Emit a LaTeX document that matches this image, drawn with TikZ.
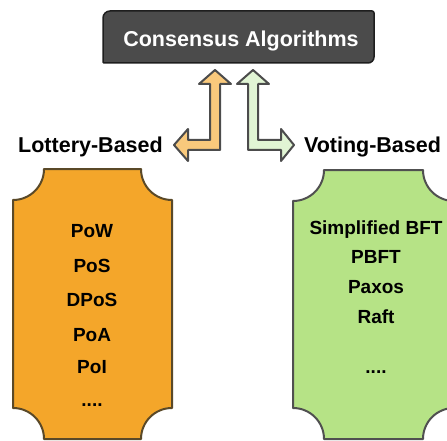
\documentclass[tikz,border=0pt]{standalone}
\usepackage{fontspec}
\setmainfont{Liberation Sans}

\definecolor{titlegray}{HTML}{4B4B4B}
\definecolor{titleedge}{HTML}{1E1E1E}
\definecolor{lotfill}{HTML}{F4A62A}
\definecolor{lotedge}{HTML}{5A4928}
\definecolor{votfill}{HTML}{B6E386}
\definecolor{votedge}{HTML}{505050}
\definecolor{lotarrow}{HTML}{F9C97C}
\definecolor{votarrow}{HTML}{E1F5D4}
\definecolor{arrowedge}{HTML}{4C4C4C}

\tikzset{
  heading/.style={font=\bfseries\fontsize{21.5}{24}\selectfont, anchor=base},
  item/.style={font=\bfseries\fontsize{19}{22}\selectfont, anchor=base},
  blockarrow/.style={draw=arrowedge, line width=2pt, line join=round},
  ticketframe/.style={line width=2pt, line join=round},
}

% box with concave corners: left, right, top, bottom, radius
\newcommand{\ticketpath}[5]{%
  ({#1+#5},#3) -- ({#2-#5},#3) arc[start angle=180, end angle=90, radius=#5]
  -- (#2,{#4-#5}) arc[start angle=270, end angle=180, radius=#5]
  -- ({#1+#5},#4) arc[start angle=0, end angle=-90, radius=#5]
  -- (#1,{#3+#5}) arc[start angle=90, end angle=0, radius=#5] -- cycle}

\begin{document}
\begin{tikzpicture}[x=1pt,y=-1pt]
\useasboundingbox (0,0) rectangle (447,441);
\clip (0,0) rectangle (447,441);

% title
\filldraw[fill=titlegray, draw=titleedge, line width=1.5pt]
  (103,37) [rounded corners=7pt] -- (103,11) -- (238,11)
  [rounded corners=2pt] -- (374,11) -- (374,37)
  [rounded corners=6pt] -- (374,63) -- (238,63)
  [rounded corners=1pt] -- (103,63) -- cycle;
\node[heading, text=white] (title) at (241,47) {Consensus Algorithms};

% split arrows
\draw[blockarrow, fill=lotarrow] (220,150) -- (220,84) -- (231,84) -- (215,70)
  -- (199,84) -- (210,84) -- (210,140) -- (188,140) -- (188,129) -- (174,145)
  -- (188,161) -- (188,150) -- cycle;
\draw[blockarrow, fill=votarrow] (248,150) -- (248,84) -- (237,84) -- (253,70)
  -- (269,84) -- (258,84) -- (258,140) -- (281,140) -- (281,129) -- (294,145)
  -- (281,161) -- (281,150) -- cycle;

\node[heading] (lottery) at (90.5,153) {Lottery-Based};
\node[heading] (voting) at (372.5,153) {Voting-Based};

% the two groups
\filldraw[ticketframe, fill=lotfill, draw=lotedge] \ticketpath{13}{172}{169}{439}{31};
\filldraw[ticketframe, fill=votfill, draw=votedge] \ticketpath{293}{454}{170}{439}{31};

\foreach \name/\y [count=\i] in {PoW/237, PoS/272, DPoS/306, PoA/341, PoI/373}
  \node[item] (lot\i) at (92,\y) {\name};
\node[item] (lotmore) at (92,406) {....};
\foreach \name/\y [count=\i] in {Simplified BFT/234, PBFT/263, Paxos/293, Raft/323}
  \node[item] (vot\i) at (376,\y) {\name};
\node[item] (votmore) at (376,373.5) {....};
\end{tikzpicture}
\end{document}
